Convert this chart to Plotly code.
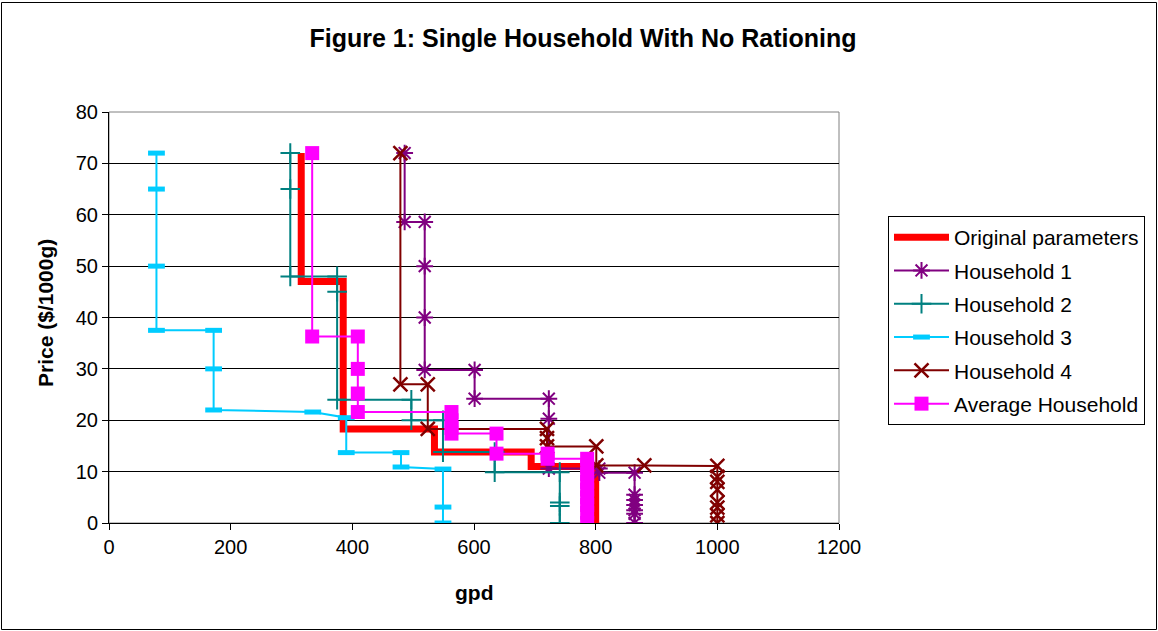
import plotly.graph_objects as go

# ---- data ----
orig_x = [316, 316, 385, 385, 535, 535, 694, 694, 800, 800]
orig_y = [72, 47, 47, 18.3, 18.3, 13.8, 13.8, 11, 11, 0]

h1_x = [486, 486, 519, 519, 519, 519, 601, 601, 723, 723, 723, 806, 806, 864, 864, 864, 864, 864, 864, 864]
h1_y = [72, 58.6, 58.6, 50, 40, 29.8, 29.8, 24.2, 24.2, 20.3, 10.6, 10.6, 9.8, 9.8, 5.5, 4.5, 3.5, 2.5, 1.8, 0]

h2_x = [298, 298, 298, 375, 375, 375, 497, 497, 549, 549, 634, 634, 741, 741, 741, 741]
h2_y = [72, 65, 48, 48, 45, 24, 24, 20, 20, 13.8, 13.8, 9.9, 9.9, 4, 3.3, 0]

h3_x = [78, 78, 78, 78, 172, 172, 172, 335, 390, 390, 480, 480, 549, 549, 549]
h3_y = [72, 65, 50, 37.5, 37.5, 30, 22, 21.6, 20.5, 13.7, 13.7, 10.9, 10.5, 3.1, 0]

h4_x = [479, 479, 524, 524, 720, 720, 720, 801, 801, 880, 1000, 1000, 1000, 1000, 1000, 1000, 1000, 1000]
h4_y = [72, 27, 27, 18.3, 18.3, 16.5, 14.9, 14.9, 11.2, 11.2, 11.1, 9, 8, 6.5, 4, 3, 1.5, 0]

avg_x = [334, 334, 409, 409, 409, 409, 563, 563, 563, 563, 637, 637, 721, 721, 786, 786, 786, 786, 786, 786, 786, 786, 786]
avg_y = [72, 36.3, 36.3, 30, 25.2, 21.6, 21.6, 20, 18.5, 17.4, 17.4, 13.5, 13.5, 12.5, 12.5, 11, 9.5, 8, 6.5, 5, 3.5, 2, 0]

series_names = ["Original parameters", "Household 1", "Household 2", "Household 3",
                "Household 4", "Average Household"]

x_ticks = [0, 200, 400, 600, 800, 1000, 1200]
y_ticks = [0, 10, 20, 30, 40, 50, 60, 70, 80]

FONT = "Liberation Sans, Arial, sans-serif"

fig = go.Figure()
fig.add_trace(go.Scatter(x=orig_x, y=orig_y, name=series_names[0], mode="lines",
                         legendgroup="g0",
                         line=dict(color="#FF0000", width=7)))
fig.add_trace(go.Scatter(x=h1_x, y=h1_y, name=series_names[1], mode="lines+markers",
                         legendgroup="g1",
                         line=dict(color="#800080", width=2),
                         marker=dict(symbol="asterisk-open", size=14, color="#800080",
                                     line=dict(color="#800080", width=2))))
fig.add_trace(go.Scatter(x=h2_x, y=h2_y, name=series_names[2], mode="lines+markers",
                         legendgroup="g2",
                         line=dict(color="#008080", width=2),
                         marker=dict(symbol="cross-thin-open", size=14, color="#008080",
                                     line=dict(color="#008080", width=2))))
fig.add_trace(go.Scatter(x=h3_x, y=h3_y, name=series_names[3], mode="lines+markers",
                         legendgroup="g3",
                         line=dict(color="#00CCFF", width=2),
                         marker=dict(symbol="line-ew-open", size=12, color="#00CCFF",
                                     line=dict(color="#00CCFF", width=5))))
fig.add_trace(go.Scatter(x=h4_x, y=h4_y, name=series_names[4], mode="lines+markers",
                         legendgroup="g4",
                         line=dict(color="#800000", width=2),
                         marker=dict(symbol="x-thin-open", size=14, color="#800000",
                                     line=dict(color="#800000", width=2.5))))
fig.add_trace(go.Scatter(x=avg_x, y=avg_y, name=series_names[5], mode="lines+markers",
                         legendgroup="g5",
                         line=dict(color="#FF00FF", width=2),
                         marker=dict(symbol="square", size=14, color="#FF00FF",
                                     line=dict(width=0))))

W, H = 1158, 631
L, R, T, B = 109, 319, 112, 108
PW, PH = W - L - R, H - T - B

def xp(px):
    return (px - L) / PW

def yp(py):
    return (H - B - py) / PH

fig.update_layout(
    width=W, height=H, autosize=False,
    margin=dict(l=L, r=R, t=T, b=B, pad=0),
    paper_bgcolor="white", plot_bgcolor="white",
    font=dict(family=FONT, size=20, color="black"),
    title=dict(text="<b>Figure 1: Single Household With No Rationing</b>",
               x=583 / W, xanchor="center", y=1 - 38 / H, yanchor="middle",
               font=dict(family=FONT, size=25, color="black")),
    xaxis=dict(range=[0, 1200], tickvals=x_ticks, showgrid=False, zeroline=False,
               showline=True, linecolor="black", linewidth=1,
               ticks="outside", ticklen=6, tickcolor="black",
               tickfont=dict(family=FONT, size=20)),
    yaxis=dict(range=[0, 80], tickvals=y_ticks, showgrid=True, gridcolor="black",
               gridwidth=1, zeroline=False, showline=True, linecolor="black",
               linewidth=1, ticks="outside", ticklen=6, tickcolor="black",
               tickfont=dict(family=FONT, size=20)),
    legend=dict(x=xp(888), y=yp(216), xanchor="left", yanchor="top",
                bgcolor="white", bordercolor="black", borderwidth=1,
                font=dict(family=FONT, size=21, color="black"),
                itemwidth=55, tracegroupgap=3),
    showlegend=True,
    shapes=[
        dict(type="rect", xref="paper", yref="paper", x0=0, x1=1, y0=0, y1=1,
             line=dict(color="#808080", width=1), layer="below"),
        dict(type="rect", xref="paper", yref="paper",
             x0=xp(1.5), x1=xp(1156.5), y0=yp(629.5), y1=yp(2.5),
             line=dict(color="black", width=1), layer="below"),
    ],
    annotations=[
        dict(text="<b>gpd</b>", xref="paper", yref="paper", x=xp(474), y=yp(592),
             xanchor="center", yanchor="middle", showarrow=False,
             font=dict(family=FONT, size=21, color="black")),
        dict(text="<b>Price ($/1000g)</b>", xref="paper", yref="paper", x=xp(45),
             y=yp(313), xanchor="center", yanchor="middle", showarrow=False,
             textangle=-90, font=dict(family=FONT, size=21, color="black")),
    ],
)

fig.write_html("out.html")
